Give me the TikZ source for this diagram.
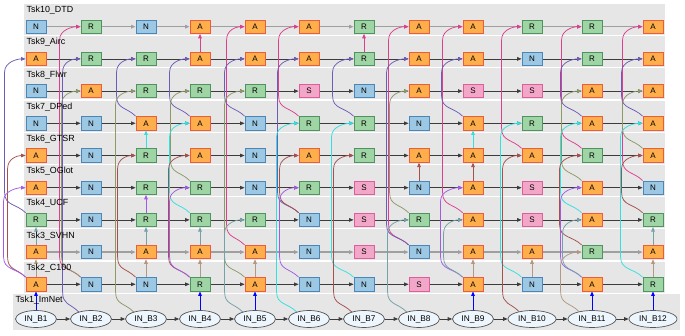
\documentclass[tikz,border=0pt]{standalone}
\usepackage{fontspec}
\setmainfont{Liberation Sans}
\usetikzlibrary{arrows.meta,calc,shapes.geometric}
\pgfdeclarelayer{bg}
\pgfdeclarelayer{edges}
\pgfsetlayers{bg,edges,main}
\definecolor{bandc}{HTML}{E6E6E6}
\definecolor{fN}{HTML}{9DC8E4}\definecolor{dN}{HTML}{4A86B8}
\definecolor{fR}{HTML}{9FD4A4}\definecolor{dR}{HTML}{4F9460}
\definecolor{fA}{HTML}{FFAE4C}\definecolor{dA}{HTML}{EE5A3A}
\definecolor{fS}{HTML}{F3A7C8}\definecolor{dS}{HTML}{DD5E98}
\definecolor{fIN}{HTML}{EEF6FD}\definecolor{dIN}{HTML}{555555}
\definecolor{hcol}{HTML}{3C3C3C}
\definecolor{cBl}{HTML}{0000FF}
\definecolor{cTa}{HTML}{B29A82}
\definecolor{cTe}{HTML}{73A2A8}
\definecolor{cVi}{HTML}{A35BE6}
\definecolor{cMa}{HTML}{A5504D}
\definecolor{cCy}{HTML}{33E0E0}
\definecolor{cOl}{HTML}{8C9A68}
\definecolor{cSl}{HTML}{6E5CB8}
\definecolor{cPk}{HTML}{DD3F8E}
\newcommand{\xe}[4]{%
  \draw[xedge,draw=#3] let \p1=(#1), \p2=(#2.west) in
   (\p1) .. controls (\x1-9,\y1+9) and (\x2-#4,\y1+7) .. (\x2-#4,\y1+20)
   -- (\x2-#4,\y2-13) .. controls (\x2-#4,\y2-3) and (\x2-8,\y2) .. (\p2);}
\newcommand{\ve}[3]{\draw[vedge,draw=#3] (#1.north) -- (#2.south);}
\begin{document}
\begin{tikzpicture}[x=1pt,y=1pt,
  tip/.style={-{Triangle[length=4.5pt,width=3.6pt]}},
  box/.style={rectangle,minimum width=20pt,minimum height=13.5pt,inner sep=0pt,line width=0.8pt,font=\fontsize{8}{9.6}\selectfont},
  boxN/.style={box,fill=fN,draw=dN},
  boxR/.style={box,fill=fR,draw=dR},
  boxA/.style={box,fill=fA,draw=dA},
  boxS/.style={box,fill=fS,draw=dS},
  inb/.style={ellipse,minimum height=17pt,inner sep=0pt,fill=fIN,draw=dIN,line width=0.7pt,font=\fontsize{8.3}{10}\selectfont},
  lab/.style={anchor=west,inner sep=0pt,font=\fontsize{8.9}{10.5}\selectfont},
  hedge/.style={tip,draw=hcol,line width=0.7pt},
  hedgeg/.style={tip,draw=gray!75,line width=1.3pt},
  xedge/.style={tip,line width=0.75pt},
  vedge/.style={tip,line width=0.85pt}]
\useasboundingbox (0,0) rectangle (685,335);
\begin{pgfonlayer}{bg}
\fill[white] (0,0) rectangle (685,335);
\foreach \i in {0,...,8} {\fill[bandc] (24,{300-\i*32.2}) rectangle (665,{331-\i*32.2});}
\fill[bandc] (13,5) rectangle (680,41);
\end{pgfonlayer}
% band labels
\foreach \lab [count=\i from 0] in {Tsk10\_DTD,Tsk9\_Airc,Tsk8\_Flwr,Tsk7\_DPed,Tsk6\_GTSR,Tsk5\_OGlot,Tsk4\_UCF,Tsk3\_SVHN,Tsk2\_C100}
  {\node[lab] (lab\i) at (26.5,{324.6-\i*32.2}) {\lab};}
\node[lab] (lab9) at (15.5,35) {Tsk1\_ImNet};
% task nodes
\foreach \r/\row in {10/{N,R,N,A,A,A,R,A,A,R,R,A},9/{A,R,R,A,A,A,R,A,A,N,R,A},8/{N,A,R,R,R,S,N,A,S,S,A,A},7/{N,N,A,A,N,R,R,N,A,R,A,A},6/{A,N,R,A,N,A,R,A,A,A,R,A},5/{A,N,R,R,N,R,S,N,A,S,A,N},4/{R,N,R,R,R,N,S,R,A,S,A,R},3/{A,N,A,A,A,N,S,N,A,A,R,A},2/{A,N,N,R,A,N,N,S,A,N,A,R}}{
  \pgfmathsetmacro\ry{308.3-(10-\r)*32.2}
  \foreach \ty [count=\c] in \row {
    \pgfmathsetmacro\cx{{36,91,146,200,255,309,364,419,473,532,592,653}[\c-1]}
    \node[box\ty] (t\r-\c) at (\cx,\ry) {\ty};
  }
}
% input nodes
\foreach \c in {1,...,12} {
  \pgfmathsetmacro\cx{{36,91,146,200,255,309,364,419,473,532,592,653}[\c-1]}
  \pgfmathsetmacro\ewid{\c>9 ? 48 : 41}
  \node[inb,minimum width=\ewid pt] (in\c) at (\cx,16) {IN\_B\c};
}
\begin{pgfonlayer}{edges}
% horizontal edges
\foreach \r in {9,8,7,6,5,4,2} {
  \foreach \c [evaluate=\c as \n using int(\c+1)] in {1,...,11} {\draw[hedge] (t\r-\c) -- (t\r-\n);}
}
\foreach \r in {10,3} {
  \foreach \c [evaluate=\c as \n using int(\c+1)] in {1,...,11} {\draw[hedgeg] (t\r-\c) -- (t\r-\n);}
}
\foreach \c [evaluate=\c as \n using int(\c+1)] in {1,...,11} {\draw[hedge] (in\c) -- (in\n);}
% vertical edges
\ve{in1}{t2-1}{cBl}\ve{t2-1}{t3-1}{cTa}\ve{t3-1}{t4-1}{cTe}
\ve{t2-3}{t3-3}{cTa}\ve{t3-3}{t4-3}{cTe}\ve{t4-3}{t5-3}{cVi}\ve{t6-3}{t7-3}{cCy}
\ve{in4}{t2-4}{cBl}\ve{t2-4}{t3-4}{cTa}\ve{t3-4}{t4-4}{cTe}\ve{t9-4}{t10-4}{cPk}
\ve{in5}{t2-5}{cBl}\ve{t2-5}{t3-5}{cTa}
\ve{t9-7}{t10-7}{cPk}
\ve{t5-8}{t6-8}{cMa}
\ve{in9}{t2-9}{cBl}\ve{t2-9}{t3-9}{cTa}\ve{t5-9}{t6-9}{cMa}\ve{t6-9}{t7-9}{cCy}
\ve{t2-10}{t3-10}{cTa}
\ve{in11}{t2-11}{cBl}
\ve{in12}{t2-12}{cBl}\ve{t2-12}{t3-12}{cTa}\ve{t3-12}{t4-12}{cTe}
% cross edges (same column, bulging left)
\xe{t4-1.north west}{t9-1}{cSl}{21}
\xe{t2-1.north west}{t6-1}{cMa}{18}
\xe{t2-1.north west}{t5-1}{cVi}{22}
\xe{t2-2.north west}{t10-2}{cPk}{21}
\xe{in2.150}{t9-2}{cSl}{18}
\xe{t2-2.north west}{t8-2}{cOl}{19}
\xe{t7-3.north west}{t9-3}{cSl}{19}
\xe{in3.150}{t8-3}{cOl}{20}
\xe{t2-3.north west}{t6-3}{cMa}{18}
\xe{t7-4.north west}{t9-4}{cSl}{20}
\xe{t5-4.north west}{t8-4}{cOl}{19}
\xe{t4-4.north west}{t7-4}{cCy}{20}
\xe{t2-4.north west}{t6-4}{cMa}{21}
\xe{t2-4.north west}{t5-4}{cVi}{20}
\xe{t3-5.north west}{t10-5}{cPk}{18}
\xe{t7-5.north west}{t9-5}{cSl}{20}
\xe{t2-5.north west}{t8-5}{cOl}{20}
\xe{in5.150}{t4-5}{cTe}{20}
\xe{t7-6.north west}{t10-6}{cPk}{20}
\xe{t4-6.north west}{t9-6}{cSl}{21}
\xe{in6.150}{t7-6}{cCy}{22}
\xe{t4-6.north west}{t6-6}{cMa}{19}
\xe{t2-6.north west}{t5-6}{cVi}{19}
\xe{t7-7.north west}{t9-7}{cSl}{21}
\xe{t2-7.north west}{t7-7}{cCy}{22}
\xe{in7.150}{t6-7}{cMa}{20}
\xe{t3-8.north west}{t10-8}{cPk}{20}
\xe{t3-8.north west}{t9-8}{cSl}{22}
\xe{t4-8.north west}{t8-8}{cOl}{19}
\xe{in8.150}{t4-8}{cTe}{21}
\xe{t4-9.north west}{t10-9}{cPk}{20}
\xe{t7-9.north west}{t9-9}{cSl}{21}
\xe{t2-9.north west}{t5-9}{cVi}{22}
\xe{t2-9.north west}{t4-9}{cTe}{19}
\xe{t6-10.north west}{t10-10}{cPk}{20}
\xe{t2-10.north west}{t7-10}{cCy}{21}
\xe{in10.150}{t6-10}{cMa}{19}
\xe{t6-11.north west}{t10-11}{cPk}{20}
\xe{t7-11.north west}{t9-11}{cSl}{21}
\xe{t5-11.north west}{t8-11}{cOl}{20}
\xe{t4-11.north west}{t7-11}{cCy}{21}
\xe{t3-11.north west}{t6-11}{cMa}{22}
\xe{t2-11.north west}{t5-11}{cVi}{21}
\xe{t2-11.north west}{t4-11}{cTe}{19}
\xe{in11.150}{t3-11}{cTa}{21}
\xe{t5-12.north west}{t10-12}{cPk}{20}
\xe{t7-12.north west}{t9-12}{cSl}{21}
\xe{t6-12.north west}{t8-12}{cOl}{20}
\xe{t2-12.north west}{t7-12}{cCy}{22}
\xe{t4-12.north west}{t6-12}{cMa}{21}
\end{pgfonlayer}
\end{tikzpicture}
\end{document}
